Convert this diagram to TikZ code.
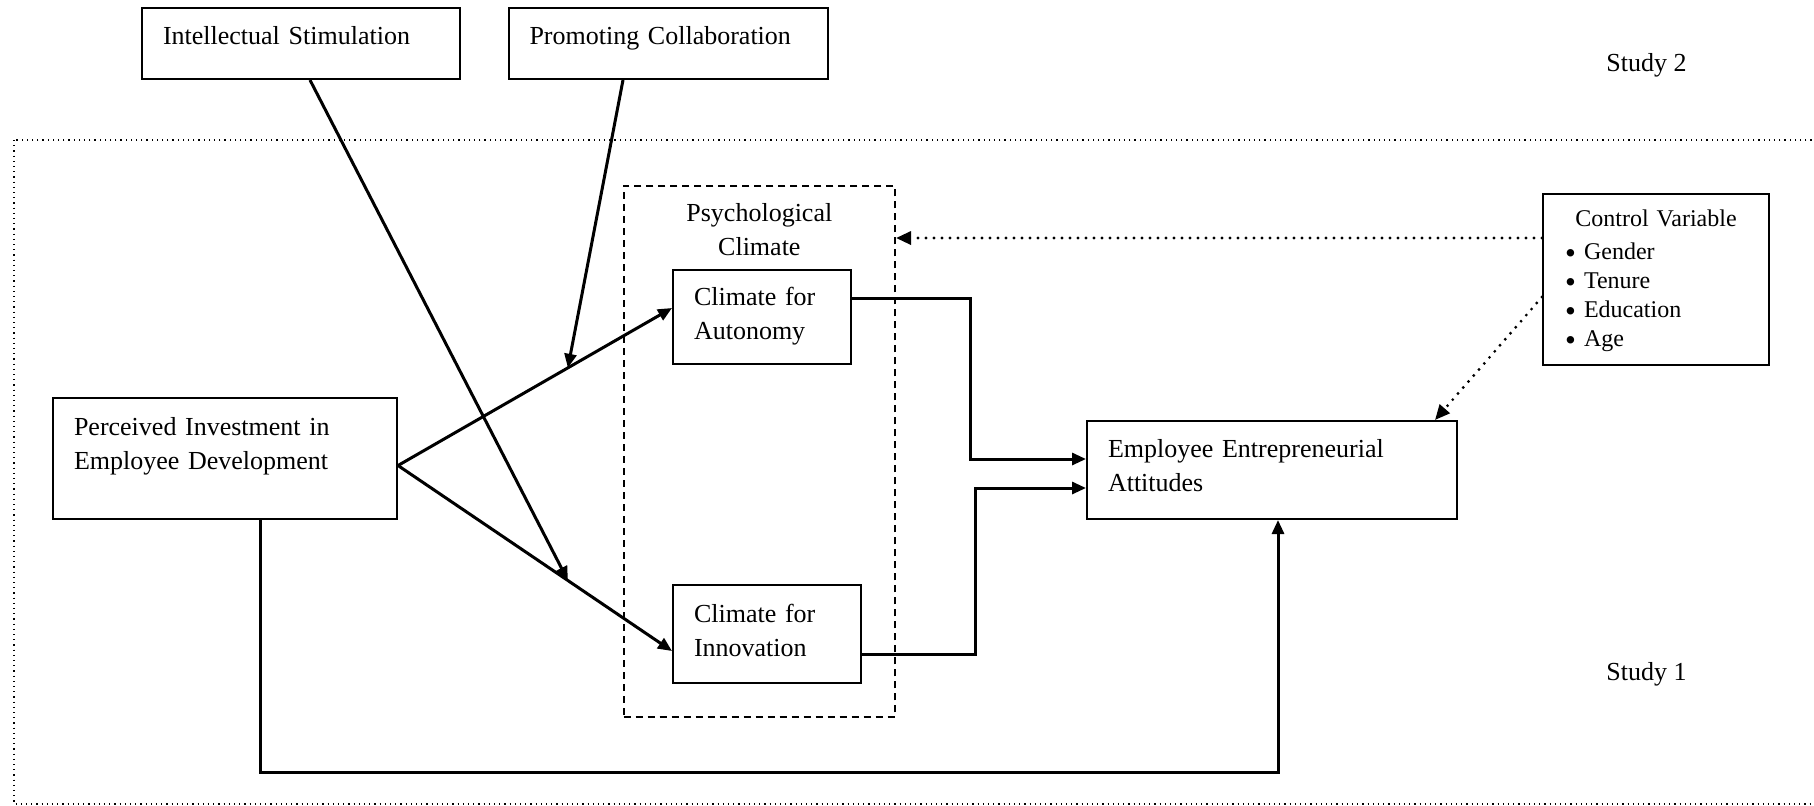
\documentclass[tikz,border=0pt]{standalone}
\usepackage{fontspec}
\setmainfont{Liberation Serif}
\usetikzlibrary{calc,arrows.meta}

\newcommand{\cvbullet}{\makebox[9.5pt][l]{\raisebox{-1.7pt}{\fontsize{15.5}{14.5}\selectfont\textbullet}}}

\tikzset{
  box/.style={draw, line width=1pt, anchor=north west, align=left,
    inner xsep=10.5pt, inner ysep=0pt, text height=18.25pt},
  link/.style={line width=1.5pt, -{Triangle[length=7pt,width=6pt]}},
  dotlink/.style={line width=1.6pt, line cap=round, dash pattern=on 0pt off 4pt,
    -{Triangle[length=7.5pt,width=6.5pt]}},
  studylabel/.style={anchor=base west, inner sep=0pt},
}

\begin{document}
\begin{tikzpicture}[x=0.5pt, y=-0.5pt, font=\fontsize{13}{17}\selectfont]
    % Page size (pixel grid, y runs down)
    \useasboundingbox (0,0) rectangle (1814,805);
    % Study 1 frame (dotted)
    \draw[line width=0.6pt, dash pattern=on 0.6pt off 2pt] (14,140) rectangle (1840,804);
    \node[studylabel] (study2) at (1606,71) {Study 2};
    \node[studylabel] (study1) at (1606,680) {Study 1};
    % Moderators of Study 2
    \node[box, text width=138pt, text depth=17.25pt] (intel) at (141,7) {Intellectual Stimulation};
    \node[box, text width=138.5pt, text depth=17.25pt] (promo) at (507.5,7) {Promoting Collaboration};
    % Mediator frame
    \node[draw, line width=1pt, dash pattern=on 3.5pt off 2.5pt, anchor=north west, align=center,
      inner sep=0pt, text width=135.65pt, text height=17.85pt, text depth=247.65pt]
      (climate) at (622.7,185) {Psychological\\Climate};
    % Main boxes
    \node[box, text width=151pt, text height=18.5pt, text depth=42pt] (pied) at (52,397)
      {Perceived Investment in\\Employee Development};
    \node[box, text width=68pt, text height=17.5pt, text depth=29.5pt] (auton) at (672,269)
      {Climate for\\Autonomy};
    \node[box, text width=73pt, text height=18.5pt, text depth=30.5pt] (innov) at (672,584)
      {Climate for\\Innovation};
    \node[box, text width=164pt, text height=18pt, text depth=31pt] (eea) at (1086,420)
      {Employee Entrepreneurial\\Attitudes};
    \node[box, inner xsep=11pt, text width=91pt, text height=16.35pt, text depth=69.15pt,
      font=\fontsize{12}{14.5}\selectfont] (control) at (1542,193)
      {\makebox[\hsize]{Control Variable}\\[2pt]
       \cvbullet Gender\\ \cvbullet Tenure\\ \cvbullet Education\\ \cvbullet Age};
    % Connector end points
    \coordinate (fork) at ($(pied.east)+(0,7)$);
    \coordinate (autin) at ($(auton.west)+(0,-9)$);
    \coordinate (innin) at ($(innov.west)+(0,17)$);
    \coordinate (cvA) at ($(control.north west)+(0,45)$);
    \coordinate (cvB) at ($(control.north west)+(0,104)$);
    % Paths
    \draw[link] (fork) -- (autin);
    \draw[link] (fork) -- (innin);
    \draw[link] ($(intel.south)+(9,0)$) -- ($(fork)!0.62!(innin)$);
    \draw[link] ($(promo.south)+(-45,0)$) -- ($(fork)!0.62!(autin)$);
    \draw[link] ($(auton.east)+(0,-19)$) -- ++(118,0) |- ($(eea.west)+(0,-11)$);
    \draw[link] ($(innov.east)+(0,20)$) -- ++(113,0) |- ($(eea.west)+(0,18)$);
    \draw[link] ($(pied.south)+(35,0)$) -- ++(0,252) -| ($(eea.south)+(6,0)$);
    % Controls
    \draw[dotlink] (cvA) -- (cvA -| climate.east);
    \draw[dotlink] (cvB) -- ($(eea.north east)+(-23,0)$);
\end{tikzpicture}
\end{document}
